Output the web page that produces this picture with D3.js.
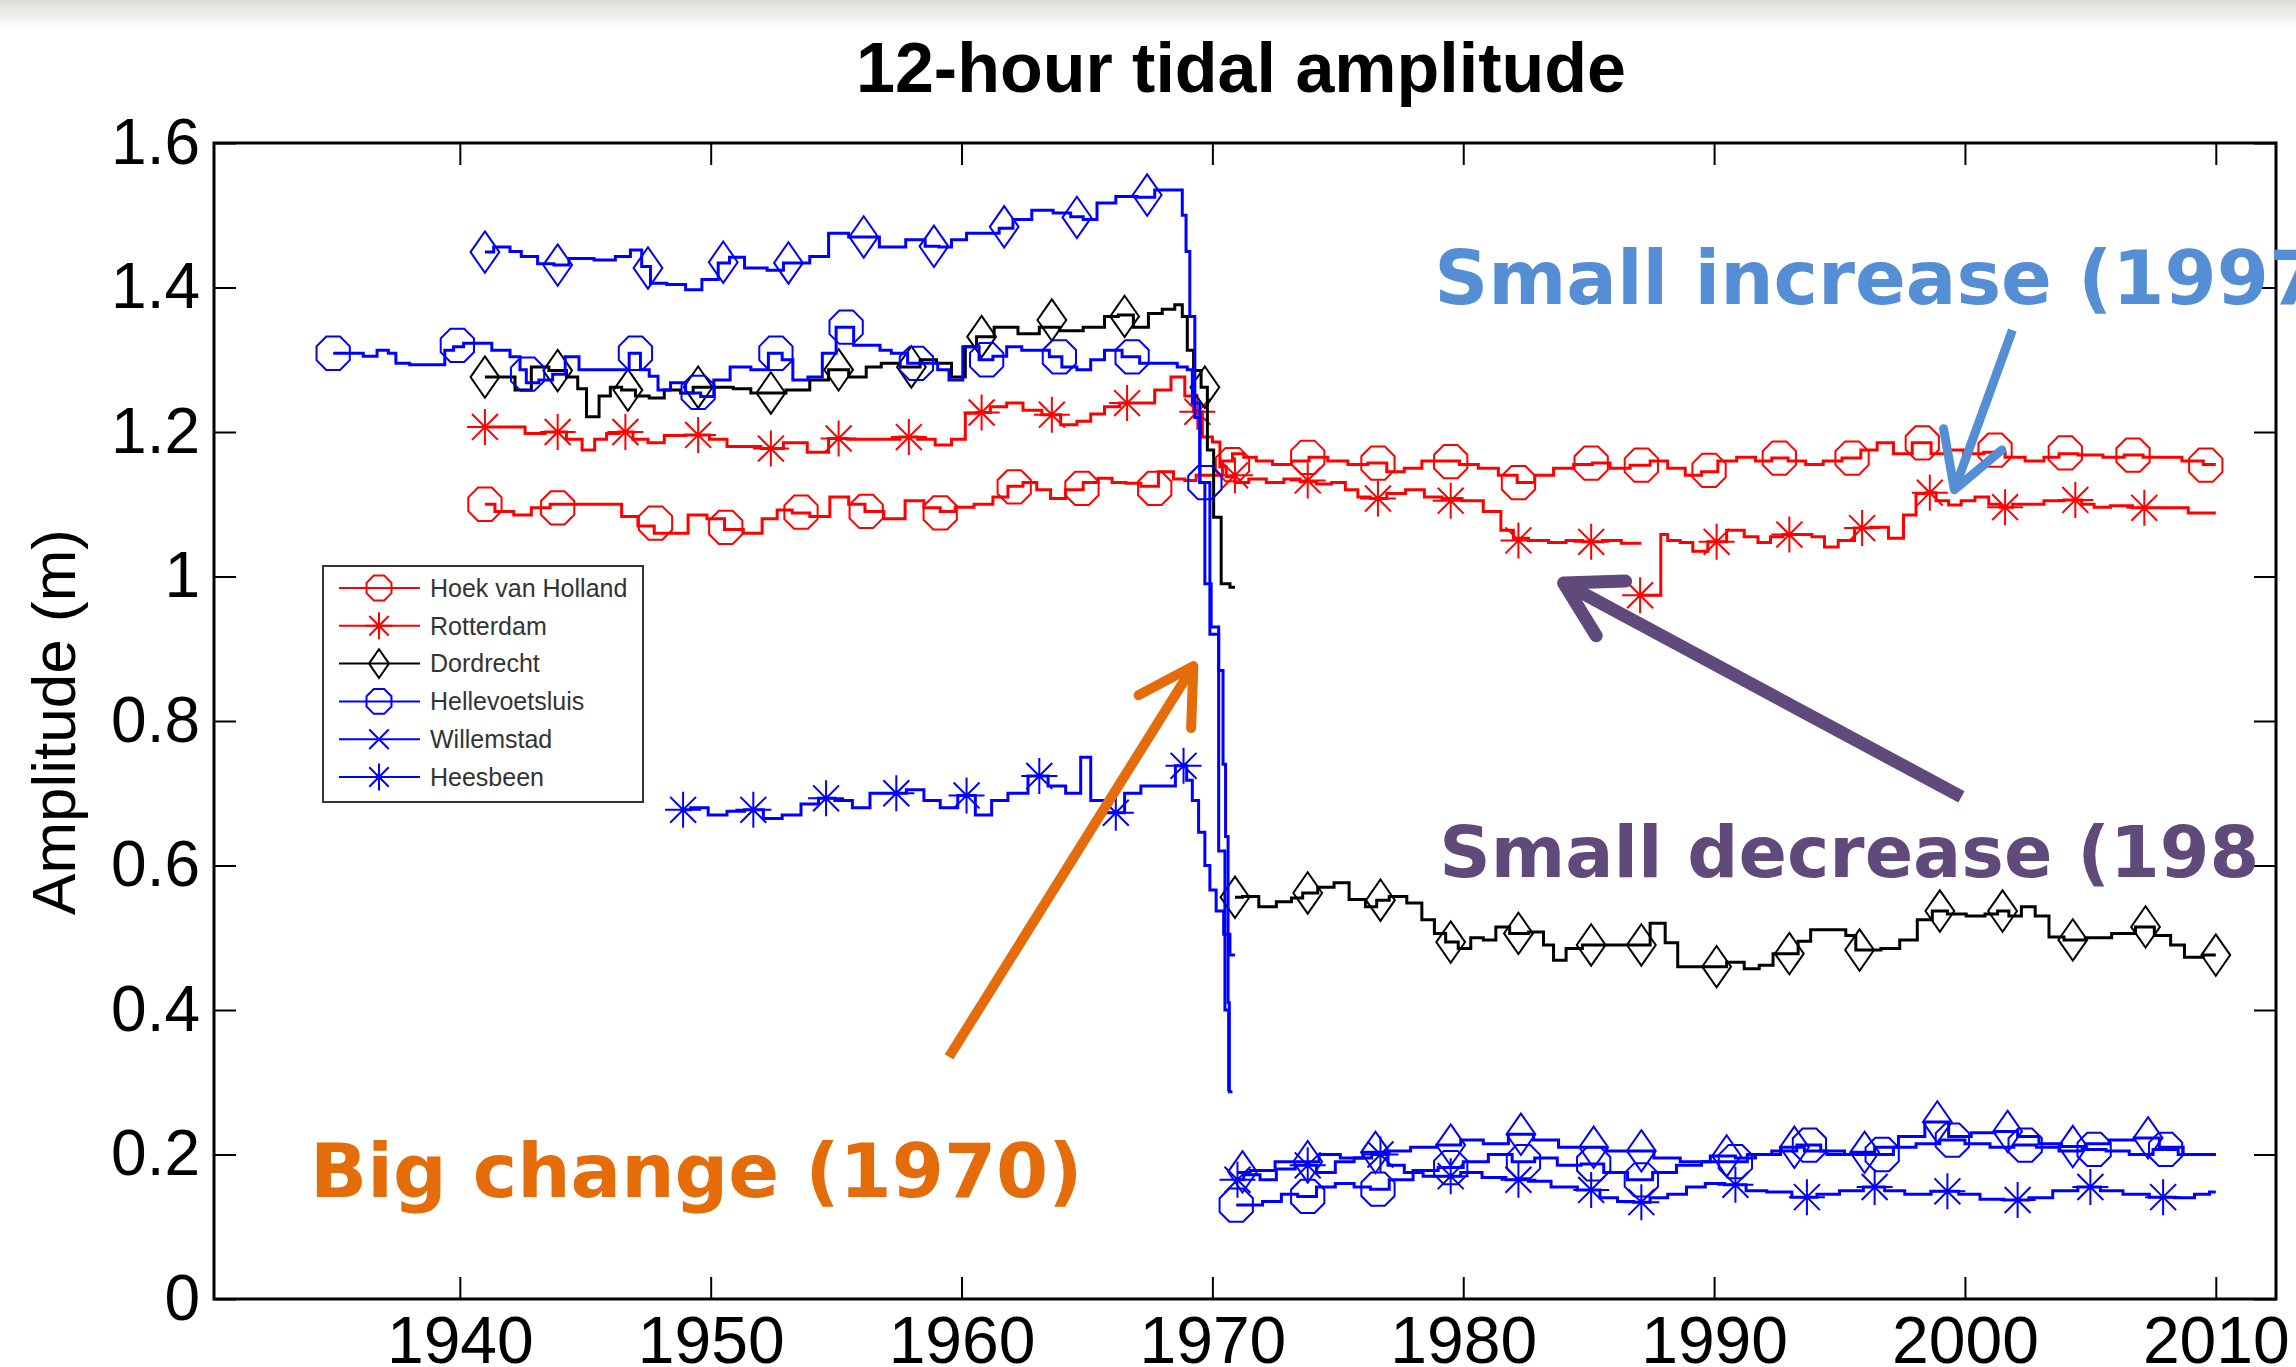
<!DOCTYPE html>
<html><head><meta charset="utf-8">
<script src="https://cdn.jsdelivr.net/npm/d3@7"></script>
<style>html,body{margin:0;padding:0;background:#fff;overflow:hidden}</style>
</head><body>
<svg id="chart" width="2296" height="1367"></svg>
<script>
// ---------------- DATA ----------------
const xTicks = [1940,1950,1960,1970,1980,1990,2000,2010];
const yTicks = [0,0.2,0.4,0.6,0.8,1.0,1.2,1.4,1.6];
const yTickLabels = ["0","0.2","0.4","0.6","0.8","1","1.2","1.4","1.6"];
const stationNames = ["Hoek van Holland","Rotterdam","Dordrecht","Hellevoetsluis","Willemstad","Heesbeen"];

const hoekLine = [[1941.0,1.10],[1941.8,1.09],[1942.5,1.085],[1943.2,1.095],[1944.0,1.10],[1945.0,1.10],[1946.2,1.10],[1946.7,1.083],[1947.5,1.07],[1948.0,1.06],[1948.7,1.06],[1949.5,1.085],[1950.2,1.08],[1950.9,1.065],[1951.7,1.06],[1952.4,1.08],[1952.9,1.092],[1953.6,1.088],[1954.3,1.083],[1955.2,1.11],[1955.8,1.10],[1956.5,1.09],[1957.3,1.08],[1958.2,1.105],[1958.8,1.095],[1959.5,1.09],[1960.0,1.096],[1961.0,1.10],[1961.5,1.11],[1962.2,1.125],[1962.7,1.13],[1963.3,1.12],[1963.8,1.108],[1964.5,1.12],[1965.2,1.13],[1965.7,1.136],[1966.3,1.13],[1966.8,1.129],[1967.5,1.125],[1968.2,1.145],[1968.7,1.135],[1969.1,1.133],[1969.6,1.14],[1970.2,1.14],[1970.6,1.16],[1971.0,1.17],[1971.5,1.165],[1972.0,1.16],[1972.8,1.155],[1973.5,1.16],[1974.2,1.165],[1975.0,1.16],[1975.8,1.155],[1976.6,1.157],[1977.3,1.145],[1978.0,1.15],[1978.7,1.16],[1979.5,1.16],[1980.2,1.155],[1981.0,1.15],[1981.8,1.14],[1982.5,1.13],[1983.2,1.14],[1984.0,1.15],[1984.8,1.155],[1985.5,1.157],[1986.2,1.15],[1987.1,1.154],[1987.8,1.16],[1988.5,1.15],[1989.2,1.14],[1989.8,1.145],[1990.5,1.16],[1991.3,1.165],[1992.0,1.16],[1992.6,1.164],[1993.3,1.16],[1994.0,1.155],[1994.7,1.16],[1995.5,1.164],[1996.2,1.175],[1996.8,1.185],[1997.5,1.17],[1998.3,1.185],[1999.0,1.17],[1999.6,1.175],[2000.3,1.17],[2001.2,1.172],[2002.0,1.165],[2002.8,1.16],[2003.5,1.165],[2004.0,1.17],[2005.0,1.168],[2006.0,1.165],[2006.7,1.168],[2007.5,1.165],[2008.3,1.165],[2009.0,1.16],[2010.0,1.155]];
const hoekMarks = [[1941.0,1.10],[1943.9,1.095],[1947.8,1.074],[1950.6,1.068],[1953.6,1.089],[1956.2,1.09],[1959.15,1.088],[1962.1,1.124],[1964.8,1.122],[1967.7,1.122],[1970.8,1.155],[1973.8,1.165],[1976.6,1.157],[1979.5,1.159],[1982.2,1.13],[1985.1,1.157],[1987.1,1.154],[1989.8,1.147],[1992.6,1.164],[1995.5,1.164],[1998.3,1.185],[2001.2,1.175],[2004.0,1.171],[2006.7,1.168],[2009.6,1.154]];

const rotterdamLine = [[1941.0,1.207],[1942.3,1.207],[1942.9,1.198],[1943.9,1.20],[1944.6,1.19],[1945.15,1.175],[1945.6,1.19],[1946.1,1.198],[1946.6,1.20],[1947.2,1.19],[1947.8,1.185],[1948.5,1.195],[1949.5,1.196],[1950.4,1.19],[1950.9,1.18],[1951.6,1.18],[1952.4,1.177],[1953.4,1.185],[1954.3,1.172],[1955.1,1.191],[1955.8,1.19],[1956.5,1.19],[1957.2,1.19],[1957.9,1.193],[1958.6,1.19],[1959.3,1.182],[1959.9,1.19],[1960.4,1.226],[1960.8,1.227],[1961.5,1.235],[1962.1,1.24],[1962.8,1.23],[1963.6,1.224],[1964.3,1.21],[1964.9,1.215],[1965.4,1.225],[1966.0,1.235],[1966.6,1.24],[1967.4,1.24],[1968.0,1.258],[1968.7,1.276],[1969.1,1.25],[1969.4,1.228],[1969.8,1.193],[1970.2,1.186],[1970.4,1.152],[1970.7,1.138],[1971.1,1.13],[1971.8,1.135],[1972.5,1.13],[1973.2,1.135],[1973.8,1.131],[1974.5,1.128],[1975.0,1.13],[1975.6,1.12],[1976.0,1.11],[1976.6,1.108],[1977.3,1.115],[1978.1,1.12],[1978.8,1.11],[1979.5,1.108],[1980.4,1.105],[1981.2,1.09],[1981.8,1.064],[1982.2,1.053],[1983.0,1.05],[1983.8,1.047],[1984.4,1.05],[1985.1,1.048],[1986.0,1.05],[1986.6,1.046],[1987.1,1.046],[1987.1,null],[1987.1,0.974],[1987.85,0.974],[1987.9,1.058],[1988.4,1.05],[1988.9,1.047],[1989.4,1.035],[1990.1,1.048],[1990.9,1.064],[1991.5,1.055],[1992.0,1.047],[1992.5,1.055],[1993.0,1.058],[1993.6,1.058],[1994.2,1.055],[1994.6,1.041],[1995.3,1.05],[1995.9,1.067],[1996.6,1.068],[1997.3,1.053],[1997.8,1.085],[1998.3,1.115],[1998.6,1.116],[1999.1,1.105],[1999.6,1.099],[2000.1,1.105],[2000.7,1.11],[2001.2,1.10],[2001.6,1.096],[2002.2,1.10],[2002.8,1.10],[2003.5,1.105],[2004.4,1.106],[2004.9,1.10],[2005.4,1.096],[2006.2,1.098],[2007.15,1.095],[2007.9,1.095],[2008.6,1.095],[2009.2,1.088],[2010.0,1.088]];
const rotterdamMarks = [[1941.0,1.207],[1943.9,1.20],[1946.6,1.20],[1949.5,1.196],[1952.4,1.177],[1955.1,1.191],[1957.9,1.193],[1960.8,1.227],[1963.6,1.224],[1966.6,1.24],[1969.4,1.228],[1970.9,1.14],[1973.8,1.133],[1976.6,1.108],[1979.5,1.105],[1982.2,1.05],[1985.1,1.048],[1987.05,0.974],[1990.1,1.048],[1993.0,1.058],[1995.9,1.067],[1998.6,1.116],[2001.6,1.096],[2004.4,1.106],[2007.15,1.095]];

const dordrechtLine = [[1941.0,1.276],[1941.9,1.276],[1942.5,1.258],[1943.2,1.29],[1943.9,1.285],[1944.6,1.276],[1944.8,1.26],[1945.3,1.221],[1945.8,1.25],[1946.2,1.262],[1946.7,1.258],[1947.3,1.25],[1947.8,1.247],[1948.5,1.258],[1949.1,1.254],[1949.5,1.262],[1950.6,1.262],[1951.2,1.26],[1952.0,1.254],[1952.4,1.254],[1953.6,1.258],[1954.3,1.272],[1955.1,1.286],[1955.9,1.276],[1956.5,1.29],[1957.1,1.295],[1958.0,1.29],[1958.7,1.30],[1959.3,1.295],[1959.9,1.276],[1960.4,1.318],[1960.8,1.332],[1961.8,1.345],[1962.7,1.336],[1963.5,1.345],[1964.3,1.34],[1965.4,1.345],[1966.0,1.36],[1966.5,1.362],[1967.2,1.345],[1967.7,1.364],[1968.3,1.37],[1968.7,1.376],[1968.9,1.36],[1969.1,1.313],[1969.4,1.285],[1969.7,1.262],[1969.9,1.175],[1970.2,1.082],[1970.5,0.99],[1970.9,0.985],[1970.9,null],[1970.9,0.556],[1971.5,0.557],[1972.2,0.543],[1972.9,0.55],[1973.4,0.555],[1973.8,0.562],[1974.6,0.57],[1975.1,0.576],[1975.8,0.553],[1976.4,0.543],[1976.7,0.552],[1977.4,0.557],[1978.1,0.548],[1978.6,0.525],[1979.1,0.506],[1979.5,0.494],[1980.1,0.485],[1980.5,0.50],[1981.1,0.497],[1981.5,0.515],[1982.2,0.506],[1983.0,0.508],[1983.4,0.49],[1983.8,0.469],[1984.4,0.485],[1985.1,0.49],[1986.1,0.49],[1987.1,0.49],[1987.8,0.52],[1988.3,0.493],[1988.8,0.46],[1989.7,0.46],[1990.1,0.46],[1990.9,0.466],[1991.5,0.457],[1992.1,0.462],[1992.6,0.478],[1993.0,0.478],[1993.7,0.495],[1994.0,0.511],[1995.0,0.511],[1995.5,0.503],[1995.8,0.483],[1996.3,0.483],[1997.0,0.485],[1997.8,0.497],[1998.4,0.525],[1999.0,0.537],[1999.6,0.533],[2000.5,0.53],[2001.1,0.533],[2001.5,0.537],[2002.0,0.53],[2002.5,0.543],[2003.1,0.53],[2003.6,0.501],[2004.3,0.497],[2005.3,0.50],[2006.4,0.506],[2007.2,0.515],[2007.9,0.503],[2008.5,0.49],[2009.0,0.473],[2010.0,0.476]];
const dordrechtMarks = [[1941.0,1.276],[1943.9,1.285],[1946.7,1.258],[1949.5,1.262],[1952.4,1.254],[1955.1,1.286],[1958.0,1.29],[1960.8,1.332],[1963.6,1.355],[1966.5,1.36],[1969.7,1.262],[1970.9,0.556],[1973.8,0.562],[1976.7,0.552],[1979.5,0.494],[1982.2,0.506],[1985.1,0.49],[1987.1,0.49],[1990.1,0.46],[1993.0,0.478],[1995.8,0.483],[1999.0,0.537],[2001.5,0.537],[2004.3,0.497],[2007.2,0.515],[2010.0,0.476]];

const hellevoetLine = [[1934.95,1.309],[1935.8,1.309],[1936.5,1.305],[1936.9,1.313],[1937.4,1.309],[1937.5,1.295],[1938.5,1.293],[1939.2,1.293],[1939.6,1.313],[1939.9,1.318],[1940.4,1.323],[1940.85,1.323],[1941.7,1.313],[1942.3,1.304],[1942.5,1.286],[1942.8,1.268],[1943.5,1.272],[1943.9,1.28],[1944.5,1.304],[1945.0,1.286],[1945.8,1.286],[1946.5,1.286],[1947.0,1.309],[1947.4,1.286],[1947.7,1.277],[1948.1,1.258],[1948.7,1.268],[1949.3,1.254],[1949.9,1.249],[1950.35,1.272],[1951.2,1.29],[1952.0,1.286],[1952.6,1.309],[1953.1,1.30],[1953.45,1.272],[1954.3,1.276],[1954.6,1.309],[1955.4,1.345],[1956.0,1.32],[1956.6,1.32],[1956.9,1.313],[1957.5,1.309],[1958.2,1.295],[1958.8,1.295],[1959.3,1.286],[1959.7,1.272],[1960.4,1.318],[1961.0,1.30],[1961.5,1.305],[1962.1,1.318],[1962.7,1.313],[1963.3,1.313],[1963.7,1.304],[1964.3,1.29],[1964.9,1.286],[1965.4,1.30],[1966.0,1.313],[1966.8,1.304],[1967.4,1.295],[1968.3,1.295],[1968.9,1.29],[1969.1,1.286],[1969.3,1.24],[1969.7,1.13],[1970.1,0.92],[1970.4,0.62],[1970.6,0.40],[1970.7,0.29],[1970.7,null],[1970.95,0.13],[1971.5,0.13],[1972.5,0.135],[1973.0,0.145],[1973.8,0.142],[1974.5,0.155],[1975.3,0.16],[1976.0,0.155],[1976.6,0.152],[1977.5,0.165],[1978.5,0.178],[1979.5,0.182],[1980.5,0.19],[1981.5,0.2],[1982.4,0.19],[1983.3,0.195],[1984.2,0.185],[1985.2,0.187],[1986.0,0.175],[1987.1,0.165],[1988.0,0.175],[1989.0,0.185],[1990.0,0.19],[1990.85,0.19],[1991.8,0.2],[1992.8,0.205],[1993.8,0.213],[1994.7,0.205],[1995.7,0.2],[1996.7,0.2],[1997.6,0.21],[1998.5,0.215],[1999.5,0.22],[2000.5,0.215],[2001.5,0.21],[2002.4,0.213],[2003.3,0.21],[2004.2,0.205],[2005.15,0.207],[2006.1,0.205],[2007.0,0.2],[2008.0,0.207],[2009.0,0.2],[2010.0,0.2]];
const hellevoetMarks = [[1934.95,1.309],[1939.9,1.32],[1942.7,1.28],[1947.0,1.309],[1949.5,1.255],[1952.6,1.309],[1955.4,1.345],[1958.2,1.295],[1961.0,1.30],[1963.9,1.304],[1966.8,1.304],[1969.7,1.13],[1970.95,0.13],[1973.8,0.142],[1976.6,0.152],[1979.5,0.182],[1982.4,0.19],[1985.2,0.187],[1987.1,0.165],[1990.85,0.19],[1993.8,0.213],[1996.7,0.20],[1999.5,0.22],[2002.4,0.213],[2005.15,0.207],[2008.0,0.207]];

const willemstadLine = [[1941.0,1.449],[1941.7,1.456],[1942.3,1.45],[1942.6,1.443],[1943.6,1.433],[1943.9,1.431],[1944.8,1.44],[1945.9,1.438],[1946.5,1.443],[1947.1,1.452],[1947.4,1.429],[1947.8,1.406],[1948.7,1.404],[1949.3,1.397],[1950.0,1.411],[1950.6,1.434],[1950.9,1.442],[1951.8,1.427],[1952.7,1.424],[1953.1,1.434],[1953.6,1.434],[1954.3,1.443],[1955.1,1.475],[1955.9,1.47],[1956.1,1.47],[1957.35,1.456],[1958.2,1.466],[1958.9,1.457],[1959.3,1.456],[1959.9,1.466],[1960.5,1.475],[1961.3,1.475],[1961.7,1.482],[1962.4,1.494],[1963.2,1.507],[1964.1,1.503],[1964.6,1.498],[1965.1,1.494],[1965.7,1.517],[1966.6,1.526],[1967.4,1.525],[1968.0,1.535],[1968.7,1.535],[1968.9,1.50],[1969.0,1.45],[1969.2,1.36],[1969.4,1.22],[1969.6,1.13],[1969.8,0.99],[1970.1,0.93],[1970.4,0.87],[1970.45,0.74],[1970.6,0.64],[1970.65,0.41],[1970.7,0.287],[1970.8,0.287],[1970.8,null],[1971.0,0.175],[1972.0,0.178],[1973.0,0.19],[1973.8,0.19],[1974.7,0.2],[1975.5,0.195],[1976.5,0.203],[1977.4,0.205],[1978.4,0.21],[1979.5,0.213],[1980.3,0.22],[1981.3,0.215],[1982.3,0.228],[1983.3,0.22],[1984.3,0.21],[1985.2,0.21],[1986.2,0.205],[1987.1,0.205],[1988.1,0.195],[1989.2,0.19],[1990.5,0.198],[1991.2,0.195],[1992.1,0.2],[1993.2,0.21],[1994.0,0.205],[1995.0,0.2],[1996.0,0.203],[1996.8,0.21],[1997.9,0.225],[1998.9,0.245],[1999.8,0.225],[2000.7,0.23],[2001.7,0.232],[2002.5,0.225],[2003.4,0.215],[2004.3,0.211],[2005.3,0.215],[2006.2,0.22],[2007.3,0.223],[2008.2,0.21],[2009.2,0.2],[2010.0,0.2]];
const willemstadMarks = [[1941.0,1.449],[1943.9,1.431],[1947.5,1.427],[1950.5,1.435],[1953.1,1.434],[1956.1,1.47],[1958.9,1.457],[1961.7,1.484],[1964.6,1.497],[1967.4,1.528],[1971.2,0.176],[1973.8,0.19],[1976.5,0.203],[1979.5,0.213],[1982.3,0.228],[1985.2,0.21],[1987.1,0.205],[1990.5,0.198],[1993.2,0.21],[1996.0,0.203],[1998.9,0.245],[2001.7,0.232],[2004.3,0.211],[2007.3,0.223]];

const heesbeenLine = [[1948.9,0.677],[1949.5,0.68],[1950.3,0.67],[1951.0,0.675],[1951.7,0.677],[1952.5,0.665],[1953.2,0.67],[1954.0,0.685],[1954.6,0.693],[1955.3,0.69],[1956.0,0.68],[1956.7,0.70],[1957.4,0.70],[1958.2,0.705],[1958.8,0.69],[1959.5,0.68],[1960.2,0.697],[1960.9,0.67],[1961.5,0.69],[1962.2,0.70],[1963.1,0.724],[1963.8,0.71],[1964.5,0.70],[1965.0,0.75],[1965.3,0.69],[1966.2,0.673],[1966.8,0.70],[1967.5,0.71],[1968.2,0.71],[1968.85,0.738],[1969.1,0.718],[1969.3,0.69],[1969.6,0.646],[1969.8,0.60],[1970.0,0.566],[1970.3,0.537],[1970.6,0.505],[1970.8,0.476],[1970.9,0.476],[1970.9,null],[1971.0,0.165],[1971.5,0.172],[1972.3,0.165],[1972.8,0.18],[1973.8,0.185],[1974.5,0.175],[1975.3,0.19],[1976.0,0.195],[1976.7,0.2],[1977.3,0.185],[1978.0,0.175],[1978.8,0.17],[1979.5,0.17],[1980.3,0.175],[1981.2,0.168],[1982.2,0.165],[1983.0,0.163],[1984.0,0.155],[1985.1,0.151],[1985.8,0.14],[1986.5,0.135],[1987.1,0.134],[1987.8,0.14],[1988.5,0.145],[1989.3,0.155],[1990.0,0.16],[1990.85,0.158],[1991.7,0.15],[1992.5,0.148],[1993.7,0.141],[1994.5,0.145],[1995.5,0.15],[1996.4,0.155],[1997.2,0.15],[1998.0,0.145],[1999.3,0.149],[2000.2,0.145],[2001.0,0.138],[2002.1,0.137],[2003.0,0.14],[2004.0,0.15],[2005.0,0.155],[2005.8,0.15],[2006.8,0.145],[2007.9,0.141],[2008.8,0.14],[2009.5,0.145],[2010.0,0.148]];
const heesbeenMarks = [[1948.9,0.677],[1951.7,0.677],[1954.6,0.693],[1957.4,0.70],[1960.2,0.697],[1963.1,0.724],[1966.15,0.673],[1968.85,0.738],[1971.0,0.165],[1973.8,0.185],[1976.7,0.2],[1979.5,0.17],[1982.2,0.165],[1985.1,0.151],[1987.1,0.134],[1990.85,0.158],[1993.7,0.141],[1996.4,0.155],[1999.3,0.149],[2002.1,0.137],[2005.0,0.155],[2007.9,0.141]];

// annotations in data coordinates [year, value]
const annotationTexts = ["Small increase (1997", "Small decrease (198", "Big change (1970)"];
const annotationAnchors = [[1978.84,1.377],[1979.04,0.584],[1934.03,0.141]];
const arrowTails = [[2001.89,1.341],[1999.86,0.695],[1959.5,0.335]];
const arrowTips  = [[1999.58,1.12],[1984.0,0.991],[1969.24,0.876]];

// ---------------- STYLE ----------------
const RED = "#ff0000", BLUE = "#0000ff", BLACK = "#000000";
const series = [
  {name: stationNames[0], line: hoekLine, marks: hoekMarks, color: RED, plotMarker: "octagon", legendMarker: "octagon"},
  {name: stationNames[1], line: rotterdamLine, marks: rotterdamMarks, color: RED, plotMarker: "asterisk", legendMarker: "asterisk"},
  {name: stationNames[2], line: dordrechtLine, marks: dordrechtMarks, color: BLACK, plotMarker: "diamond", legendMarker: "diamond"},
  {name: stationNames[3], line: hellevoetLine, marks: hellevoetMarks, color: BLUE, plotMarker: "octagon", legendMarker: "octagon"},
  {name: stationNames[4], line: willemstadLine, marks: willemstadMarks, color: BLUE, plotMarker: "diamond", legendMarker: "cross"},
  {name: stationNames[5], line: heesbeenLine, marks: heesbeenMarks, color: BLUE, plotMarker: "asterisk", legendMarker: "asterisk"}
];
const annColors = ["#558ed5", "#604a7b", "#e46c0a"];
const annWidths = [9, 13, 10];
const annSizes = [75, 71.5, 75];

const W = 2296, H = 1367;
const M = {left: 214, right: 2276, top: 143, bottom: 1299};
const FONT = "'Liberation Sans', Arial, Helvetica, sans-serif";

const svg = d3.select("#chart");
svg.append("rect").attr("width", W).attr("height", H).attr("fill", "#fff");

// faded strip at top
const defs = svg.append("defs");
const grad = defs.append("linearGradient").attr("id","topg").attr("x1",0).attr("x2",0).attr("y1",0).attr("y2",1);
grad.append("stop").attr("offset","0%").attr("stop-color","#dcdfd8");
grad.append("stop").attr("offset","100%").attr("stop-color","#f6f7f4");
svg.append("rect").attr("x",0).attr("y",0).attr("width",W).attr("height",22).attr("fill","url(#topg)");
svg.append("rect").attr("x",0).attr("y",22).attr("width",W).attr("height",4).attr("fill","#fbfbfa");

const x = d3.scaleLinear().domain([1930.2, 2012.4]).range([M.left, M.right]);
const y = d3.scaleLinear().domain([0, 1.6]).range([M.bottom, M.top]);

// title
svg.append("text").attr("x", (M.left + M.right)/2 - 4).attr("y", 92)
  .attr("text-anchor","middle").attr("font-family", FONT).attr("font-weight","bold")
  .attr("font-size", 70).attr("fill","#000").text("12-hour tidal amplitude");

// axes
const TICK = 22;
const gx = svg.append("g").attr("transform", `translate(0,${M.bottom})`)
  .call(d3.axisBottom(x).tickValues(xTicks).tickSize(-TICK).tickPadding(17).tickFormat(d3.format("d")));
const gxt = svg.append("g").attr("transform", `translate(0,${M.top})`)
  .call(d3.axisTop(x).tickValues(xTicks).tickSize(-TICK).tickFormat(""));
const gy = svg.append("g").attr("transform", `translate(${M.left},0)`)
  .call(d3.axisLeft(y).tickValues(yTicks).tickSize(-TICK).tickPadding(14).tickFormat((d,i) => yTickLabels[i]));
const gyr = svg.append("g").attr("transform", `translate(${M.right},0)`)
  .call(d3.axisRight(y).tickValues(yTicks).tickSize(-TICK).tickFormat(""));
[gx, gxt, gy, gyr].forEach(g => {
  g.select(".domain").remove();
  g.selectAll(".tick line").attr("stroke","#000").attr("stroke-width",2);
  g.selectAll(".tick text").attr("font-family", FONT).attr("fill","#000");
});
gx.selectAll(".tick text").attr("font-size", 66);
gy.selectAll(".tick text").attr("font-size", 64);

// y label
svg.append("text").attr("transform", "translate(75,722) rotate(-90)")
  .attr("text-anchor","middle").attr("font-family", FONT).attr("font-size", 62)
  .attr("fill","#000").text("Amplitude (m)");

// clip
defs.append("clipPath").attr("id","plotclip").append("rect")
  .attr("x", M.left).attr("y", M.top).attr("width", M.right - M.left).attr("height", M.bottom - M.top);

// markers
function markerPath(type, s) {
  const r = s / 2;
  if (type === "octagon") {
    const pts = d3.range(8).map(k => {
      const a = (22.5 + 45 * k) * Math.PI / 180;
      return [r * Math.cos(a), r * Math.sin(a)];
    });
    return "M" + pts.map(p => p.join(",")).join("L") + "Z";
  }
  if (type === "diamond") {
    const hw = r * 0.8, hh = r * 1.15;
    return `M0,${-hh}L${hw},0L0,${hh}L${-hw},0Z`;
  }
  if (type === "asterisk") {
    const d = r * 0.72;
    return `M0,${-r}L0,${r}M${-r},0L${r},0M${-d},${-d}L${d},${d}M${-d},${d}L${d},${-d}`;
  }
  if (type === "cross") {
    const d = r * 0.72;
    return `M${-d},${-d}L${d},${d}M${-d},${d}L${d},${-d}`;
  }
  return "";
}

const plot = svg.append("g").attr("clip-path","url(#plotclip)");
const lineGen = d3.line().defined(d => d[1] !== null).x(d => x(d[0])).y(d => y(d[1])).curve(d3.curveStep);

series.forEach(s => {
  const g = plot.append("g");
  g.append("path").datum(s.line).attr("d", lineGen)
    .attr("fill","none").attr("stroke", s.color).attr("stroke-width", 3)
    .attr("stroke-linejoin","miter");
  g.selectAll("path.mk").data(s.marks).join("path").attr("class","mk")
    .attr("transform", d => `translate(${x(d[0])},${y(d[1])})`)
    .attr("d", markerPath(s.plotMarker, 36))
    .attr("fill","none").attr("stroke", s.color).attr("stroke-width", 2);
});

// box
svg.append("rect").attr("x", M.left).attr("y", M.top)
  .attr("width", M.right - M.left).attr("height", M.bottom - M.top)
  .attr("fill","none").attr("stroke","#000").attr("stroke-width",3);

// legend
const L = {x: 323, y: 566, w: 320, h: 236};
const lg = svg.append("g");
lg.append("rect").attr("x", L.x).attr("y", L.y).attr("width", L.w).attr("height", L.h)
  .attr("fill","#fff").attr("stroke","#333").attr("stroke-width",2);
series.forEach((s, i) => {
  const cy = 588 + i * 37.8;
  lg.append("line").attr("x1", 339).attr("x2", 420).attr("y1", cy).attr("y2", cy)
    .attr("stroke", s.color).attr("stroke-width", 2);
  lg.append("path").attr("transform", `translate(379,${cy})`)
    .attr("d", markerPath(s.legendMarker, s.legendMarker === "diamond" ? 25 : 27))
    .attr("fill","none").attr("stroke", s.color).attr("stroke-width", 2);
  if (s.legendMarker === "asterisk") {
    lg.append("circle").attr("cx",379).attr("cy",cy).attr("r",3).attr("fill",s.color);
  }
  lg.append("text").attr("x", 430).attr("y", cy).attr("dy","0.35em")
    .attr("font-family", FONT).attr("font-size", 25).attr("fill","#333").text(s.name);
});

// annotations
const ANNFONT = "'DejaVu Sans', Verdana, sans-serif";
annotationTexts.forEach((t, i) => {
  svg.append("text").attr("x", x(annotationAnchors[i][0])).attr("y", y(annotationAnchors[i][1]))
    .attr("font-family", ANNFONT).attr("font-weight","bold").attr("font-size", annSizes[i])
    .attr("fill", annColors[i]).text(t);
});
arrowTails.forEach((tail, i) => {
  const x0 = x(tail[0]), y0 = y(tail[1]);
  const x1 = x(arrowTips[i][0]), y1 = y(arrowTips[i][1]);
  const back = Math.atan2(y0 - y1, x0 - x1);
  const len = 62, spread = 30 * Math.PI / 180;
  const b1 = [x1 + len * Math.cos(back + spread), y1 + len * Math.sin(back + spread)];
  const b2 = [x1 + len * Math.cos(back - spread), y1 + len * Math.sin(back - spread)];
  const g = svg.append("g").attr("stroke", annColors[i]).attr("fill","none").attr("stroke-width", annWidths[i]);
  g.append("line").attr("x1", x0).attr("y1", y0).attr("x2", x1).attr("y2", y1);
  g.append("path").attr("d", `M${b1[0]},${b1[1]}L${x1},${y1}L${b2[0]},${b2[1]}`)
    .attr("stroke-linejoin","round").attr("stroke-linecap","round");
});
</script>
</body></html>
